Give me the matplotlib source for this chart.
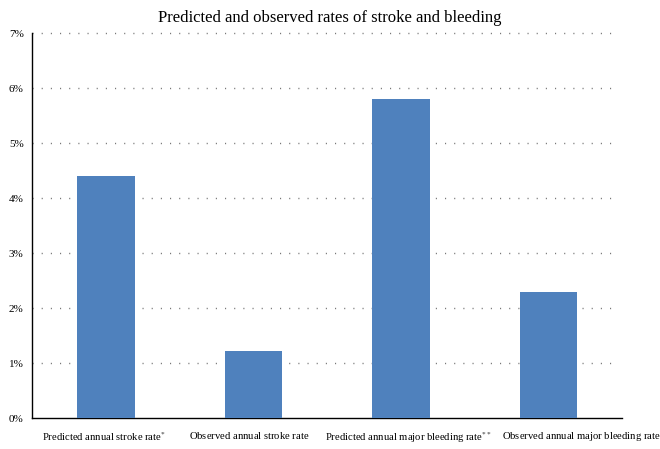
import numpy as np
import matplotlib
matplotlib.use("Agg")
import matplotlib.pyplot as plt
import matplotlib.transforms as mtransforms

categories = ["Predicted annual stroke rate$^{*}$",
              "Observed annual stroke rate$^{\\,}$",
              "Predicted annual major bleeding rate$^{**}$",
              "Observed annual major bleeding rate$^{\\,}$"]
rates = [4.4, 1.22, 5.8, 2.3]
yticks = [0, 1, 2, 3, 4, 5, 6, 7]

plt.rcParams['font.family'] = ['Liberation Serif', 'DejaVu Serif']
plt.rcParams['mathtext.fontset'] = 'stix'

fig = plt.figure(figsize=(6.6, 4.49), dpi=100)
ax = fig.add_axes([0.0485, 0.069, 0.894, 0.857])

x = np.arange(len(categories))
ax.bar(x, rates, width=0.39, color='#4f81bd', zorder=3)

ax.set_xlim(-0.5, 3.5)
ax.set_ylim(0, 7)
ax.set_yticks(yticks)
ax.set_yticklabels(["%d%%" % v for v in yticks], fontsize=8)
ax.set_xticks(x)
ax.set_xticklabels(categories, fontsize=7.7)
ax.tick_params(length=0)
ax.tick_params(axis='x', pad=8.6)
ax.tick_params(axis='y', pad=6)

# shift the crowded right-hand labels apart (px offsets)
shifts = [-2, -4, 8, 33]
for lab, dx in zip(ax.get_xticklabels(), shifts):
    lab.set_transform(lab.get_transform() +
                      mtransforms.ScaledTranslation(dx / 100, 0, fig.dpi_scale_trans))
    lab.set_clip_on(False)

for v in yticks[1:]:
    ax.plot([-0.5, 3.47], [v, v], color='#777777', lw=1.0,
            linestyle=(0, (0.8, 5.8)), zorder=1, clip_on=False)

ax.spines['top'].set_visible(False)
ax.spines['right'].set_visible(False)
ax.spines['left'].set_linewidth(1.0)
ax.spines['bottom'].set_linewidth(1.0)

fig.suptitle("Predicted and observed rates of stroke and bleeding", fontsize=12, y=0.978)

fig.savefig("out.png", dpi=100)
